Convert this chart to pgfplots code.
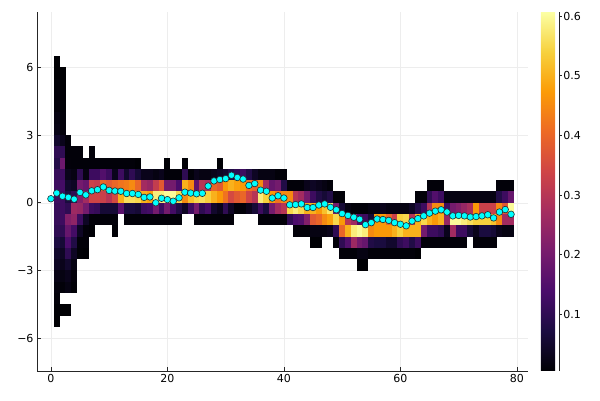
\documentclass[border=0pt]{standalone}
\usepackage{fontspec}
\setmainfont{DejaVu Sans}
\usepackage{pgfplots}
\pgfplotsset{compat=1.18}
\usepackage{pgfplotstable}

\definecolor{mcyan}{RGB}{0,255,255}
\definecolor{mstroke}{RGB}{35,45,50}
\pgfplotsset{colormap={inferno}{rgb255=(0,0,4) rgb255=(27,12,65) rgb255=(74,12,107) rgb255=(120,28,109) rgb255=(165,44,96) rgb255=(207,68,70) rgb255=(237,105,37) rgb255=(251,155,6) rgb255=(247,209,61) rgb255=(252,255,164)}}

\pgfdeclareplotmark{cell}{\pgfpathrectangle{\pgfpoint{-3.0pt}{-5.72pt}}{\pgfpoint{6.0pt}{11.44pt}}\pgfusepath{fill}}

\pgfplotstableread{
x y v
1 6.25 0.005
1 5.75 0.005
1 5.25 0.008
1 4.75 0.01
1 4.25 0.012
1 3.75 0.02
1 3.25 0.025
1 2.75 0.05
1 2.25 0.1
1 1.75 0.085
1 1.25 0.11
1 0.75 0.12
1 0.25 0.12
1 -0.25 0.11
1 -0.75 0.11
1 -1.25 0.1
1 -1.75 0.075
1 -2.25 0.05
1 -2.75 0.04
1 -3.25 0.025
1 -3.75 0.015
1 -4.25 0.01
1 -4.75 0.006
1 -5.25 0.005
2 5.75 0.005
2 5.25 0.005
2 4.75 0.007
2 4.25 0.008
2 3.75 0.01
2 3.25 0.012
2 2.75 0.03
2 2.25 0.1
2 1.75 0.19
2 1.25 0.12
2 0.75 0.13
2 0.25 0.12
2 -0.25 0.12
2 -0.75 0.12
2 -1.25 0.1
2 -1.75 0.06
2 -2.25 0.04
2 -2.75 0.03
2 -3.25 0.02
2 -3.75 0.01
2 -4.75 0.005
3 2.75 0.01
3 2.25 0.01
3 1.75 0.012
3 1.25 0.03
3 0.75 0.05
3 0.25 0.07
3 -0.25 0.1
3 -0.75 0.22
3 -1.25 0.18
3 -1.75 0.14
3 -2.25 0.1
3 -2.75 0.05
3 -3.25 0.03
3 -3.75 0.02
3 -4.75 0.005
4 2.25 0.01
4 1.75 0.01
4 1.25 0.02
4 0.75 0.04
4 0.25 0.1
4 -0.25 0.26
4 -0.75 0.24
4 -1.25 0.13
4 -1.75 0.08
4 -2.25 0.04
4 -2.75 0.02
4 -3.25 0.012
4 -3.75 0.008
5 2.25 0.01
5 1.75 0.01
5 1.25 0.1
5 0.75 0.2
5 0.25 0.22
5 -0.25 0.25
5 -0.75 0.12
5 -1.25 0.04
5 -1.75 0.01
5 -2.25 0.008
6 1.75 0.01
6 1.25 0.02
6 0.75 0.18
6 0.25 0.27
6 -0.25 0.2
6 -0.75 0.04
6 -1.25 0.01
6 -1.75 0.01
6 -2.25 0.006
7 2.25 0.01
7 1.75 0.01
7 1.25 0.12
7 0.75 0.33
7 0.25 0.34
7 -0.25 0.12
7 -0.75 0.01
7 -1.25 0.006
8 1.75 0.01
8 1.25 0.12
8 0.75 0.32
8 0.25 0.34
8 -0.25 0.11
8 -0.75 0.01
9 1.75 0.01
9 1.25 0.15
9 0.75 0.4
9 0.25 0.33
9 -0.25 0.06
9 -0.75 0.01
10 1.75 0.01
10 1.25 0.12
10 0.75 0.38
10 0.25 0.3
10 -0.25 0.06
10 -0.75 0.01
11 1.75 0.01
11 1.25 0.03
11 0.75 0.4
11 0.25 0.35
11 -0.25 0.06
11 -0.75 0.01
11 -1.25 0.006
12 1.75 0.01
12 1.25 0.12
12 0.75 0.42
12 0.25 0.5
12 -0.25 0.16
13 1.75 0.01
13 1.25 0.05
13 0.75 0.43
13 0.25 0.56
13 -0.25 0.07
13 -0.75 0.01
14 1.75 0.01
14 1.25 0.1
14 0.75 0.45
14 0.25 0.56
14 -0.25 0.07
14 -0.75 0.01
15 1.75 0.006
15 1.25 0.06
15 0.75 0.4
15 0.25 0.55
15 -0.25 0.06
15 -0.75 0.01
16 1.25 0.03
16 0.75 0.27
16 0.25 0.5
16 -0.25 0.12
16 -0.75 0.01
17 1.25 0.03
17 0.75 0.25
17 0.25 0.48
17 -0.25 0.13
17 -0.75 0.01
18 1.25 0.02
18 0.75 0.32
18 0.25 0.58
18 -0.25 0.2
18 -0.75 0.01
19 1.25 0.03
19 0.75 0.38
19 0.25 0.58
19 -0.25 0.12
19 -0.75 0.01
20 1.75 0.006
20 1.25 0.01
20 0.75 0.2
20 0.25 0.6
20 -0.25 0.2
20 -0.75 0.01
21 1.25 0.01
21 0.75 0.2
21 0.25 0.6
21 -0.25 0.13
21 -0.75 0.01
22 1.25 0.01
22 0.75 0.14
22 0.25 0.55
22 -0.25 0.08
22 -0.75 0.01
23 1.75 0.006
23 1.25 0.1
23 0.75 0.5
23 0.25 0.45
23 -0.25 0.04
24 1.25 0.01
24 0.75 0.45
24 0.25 0.52
24 -0.25 0.12
25 1.25 0.03
25 0.75 0.17
25 0.25 0.55
25 -0.25 0.2
25 -0.75 0.01
26 1.25 0.02
26 0.75 0.3
26 0.25 0.56
26 -0.25 0.1
26 -0.75 0.01
27 1.25 0.02
27 0.75 0.28
27 0.25 0.54
27 -0.25 0.13
27 -0.75 0.01
28 1.25 0.03
28 0.75 0.4
28 0.25 0.5
28 -0.25 0.05
28 -0.75 0.01
29 1.75 0.006
29 1.25 0.04
29 0.75 0.38
29 0.25 0.47
29 -0.25 0.03
29 -0.75 0.01
30 1.25 0.05
30 0.75 0.47
30 0.25 0.42
30 -0.25 0.1
30 -0.75 0.01
31 1.25 0.08
31 0.75 0.5
31 0.25 0.35
31 -0.25 0.04
31 -0.75 0.01
32 1.25 0.1
32 0.75 0.48
32 0.25 0.38
32 -0.25 0.01
33 1.25 0.12
33 0.75 0.47
33 0.25 0.4
33 -0.25 0.01
34 1.25 0.08
34 0.75 0.42
34 0.25 0.34
34 -0.25 0.03
35 1.25 0.04
35 0.75 0.4
35 0.25 0.3
35 -0.25 0.06
36 1.25 0.02
36 0.75 0.45
36 0.25 0.58
36 -0.25 0.12
36 -0.75 0.01
37 1.25 0.02
37 0.75 0.27
37 0.25 0.54
37 -0.25 0.07
37 -0.75 0.01
38 1.25 0.02
38 0.75 0.18
38 0.25 0.47
38 -0.25 0.2
38 -0.75 0.01
39 1.25 0.01
39 0.75 0.2
39 0.25 0.42
39 -0.25 0.27
39 -0.75 0.01
40 1.25 0.01
40 0.75 0.08
40 0.25 0.45
40 -0.25 0.3
40 -0.75 0.01
41 0.75 0.01
41 0.25 0.45
41 -0.25 0.55
41 -0.75 0.1
42 0.75 0.01
42 0.25 0.3
42 -0.25 0.58
42 -0.75 0.14
42 -1.25 0.01
43 0.75 0.01
43 0.25 0.27
43 -0.25 0.55
43 -0.75 0.15
43 -1.25 0.01
44 0.75 0.03
44 0.25 0.2
44 -0.25 0.5
44 -0.75 0.22
44 -1.25 0.01
45 0.75 0.04
45 0.25 0.12
45 -0.25 0.5
45 -0.75 0.38
45 -1.25 0.02
45 -1.75 0.006
46 0.75 0.03
46 0.25 0.08
46 -0.25 0.47
46 -0.75 0.4
46 -1.25 0.02
46 -1.75 0.006
47 0.75 0.02
47 0.25 0.06
47 -0.25 0.52
47 -0.75 0.45
47 -1.25 0.02
48 0.75 0.01
48 0.25 0.08
48 -0.25 0.57
48 -0.75 0.48
48 -1.25 0.03
49 0.25 0.01
49 -0.25 0.2
49 -0.75 0.55
49 -1.25 0.1
49 -1.75 0.01
50 0.25 0.01
50 -0.25 0.06
50 -0.75 0.47
50 -1.25 0.4
50 -1.75 0.1
50 -2.25 0.01
51 -0.25 0.02
51 -0.75 0.3
51 -1.25 0.5
51 -1.75 0.15
51 -2.25 0.01
52 -0.25 0.01
52 -0.75 0.26
52 -1.25 0.58
52 -1.75 0.26
52 -2.25 0.01
53 -0.25 0.01
53 -0.75 0.14
53 -1.25 0.6
53 -1.75 0.2
53 -2.25 0.02
53 -2.75 0.005
54 -0.25 0.01
54 -0.75 0.12
54 -1.25 0.58
54 -1.75 0.18
54 -2.25 0.02
54 -2.75 0.005
55 -0.25 0.02
55 -0.75 0.06
55 -1.25 0.45
55 -1.75 0.08
55 -2.25 0.01
56 -0.25 0.02
56 -0.75 0.47
56 -1.25 0.47
56 -1.75 0.07
56 -2.25 0.01
57 -0.25 0.03
57 -0.75 0.47
57 -1.25 0.47
57 -1.75 0.07
57 -2.25 0.01
58 -0.25 0.02
58 -0.75 0.4
58 -1.25 0.47
58 -1.75 0.05
58 -2.25 0.01
59 -0.25 0.02
59 -0.75 0.33
59 -1.25 0.5
59 -1.75 0.05
59 -2.25 0.01
60 -0.25 0.02
60 -0.75 0.54
60 -1.25 0.54
60 -1.75 0.1
60 -2.25 0.01
61 -0.25 0.02
61 -0.75 0.55
61 -1.25 0.5
61 -1.75 0.12
61 -2.25 0.01
62 -0.25 0.04
62 -0.75 0.3
62 -1.25 0.5
62 -1.75 0.08
62 -2.25 0.01
63 0.25 0.01
63 -0.25 0.08
63 -0.75 0.5
63 -1.25 0.5
63 -1.75 0.12
63 -2.25 0.005
64 0.25 0.01
64 -0.25 0.12
64 -0.75 0.55
64 -1.25 0.2
64 -1.75 0.01
65 0.75 0.01
65 0.25 0.1
65 -0.25 0.3
65 -0.75 0.5
65 -1.25 0.12
65 -1.75 0.01
66 0.75 0.01
66 0.25 0.15
66 -0.25 0.45
66 -0.75 0.47
66 -1.25 0.12
66 -1.75 0.01
67 0.75 0.01
67 0.25 0.12
67 -0.25 0.45
67 -0.75 0.5
67 -1.25 0.1
67 -1.75 0.01
68 0.25 0.02
68 -0.25 0.12
68 -0.75 0.25
68 -1.25 0.03
68 -1.75 0.01
69 0.25 0.02
69 -0.25 0.2
69 -0.75 0.6
69 -1.25 0.27
69 -1.75 0.01
70 0.25 0.02
70 -0.25 0.22
70 -0.75 0.6
70 -1.25 0.12
70 -1.75 0.01
71 0.25 0.02
71 -0.25 0.25
71 -0.75 0.58
71 -1.25 0.12
71 -1.75 0.01
72 0.25 0.02
72 -0.25 0.28
72 -0.75 0.56
72 -1.25 0.06
73 0.25 0.02
73 -0.25 0.47
73 -0.75 0.54
73 -1.25 0.03
73 -1.75 0.01
74 0.25 0.02
74 -0.25 0.33
74 -0.75 0.54
74 -1.25 0.07
74 -1.75 0.01
75 0.25 0.02
75 -0.25 0.33
75 -0.75 0.54
75 -1.25 0.07
75 -1.75 0.01
76 0.25 0.02
76 -0.25 0.33
76 -0.75 0.52
76 -1.25 0.06
76 -1.75 0.01
77 0.75 0.01
77 0.25 0.08
77 -0.25 0.45
77 -0.75 0.45
77 -1.25 0.03
78 0.75 0.01
78 0.25 0.12
78 -0.25 0.38
78 -0.75 0.27
78 -1.25 0.02
79 0.75 0.01
79 0.25 0.18
79 -0.25 0.6
79 -0.75 0.27
79 -1.25 0.02
}\heat

\pgfplotstableread{
x y
0 0.18
1 0.43
2 0.29
3 0.24
4 0.16
5 0.46
6 0.35
7 0.53
8 0.58
9 0.70
10 0.55
11 0.52
12 0.51
13 0.41
14 0.41
15 0.37
16 0.24
17 0.26
18 0.00
19 0.20
20 0.14
21 0.07
22 0.22
23 0.47
24 0.43
25 0.40
26 0.42
27 0.74
28 0.97
29 1.03
30 1.07
31 1.22
32 1.12
33 1.05
34 0.77
35 0.85
36 0.56
37 0.51
38 0.21
39 0.31
40 0.21
41 -0.09
42 -0.08
43 -0.05
44 -0.21
45 -0.21
46 -0.10
47 -0.05
48 -0.20
49 -0.31
50 -0.48
51 -0.56
52 -0.64
53 -0.73
54 -0.97
55 -0.88
56 -0.72
57 -0.74
58 -0.78
59 -0.88
60 -0.95
61 -1.02
62 -0.81
63 -0.70
64 -0.58
65 -0.46
66 -0.37
67 -0.31
68 -0.41
69 -0.58
70 -0.56
71 -0.58
72 -0.63
73 -0.61
74 -0.58
75 -0.53
76 -0.67
77 -0.41
78 -0.30
79 -0.51
}\means

\begin{document}
\begin{tikzpicture}
\path[use as bounding box] (0,0) rectangle (600pt,400pt);
\begin{axis}[
  at={(37pt,29pt)}, anchor=south west,
  x=5.825pt, y=22.58pt,
  xmin=-2.385, xmax=81.885, ymin=-7.45, ymax=8.45,
  axis x line*=bottom, axis y line*=left,
  axis line style={black!85, line width=0.7pt},
  tick align=inside, major tick length=4pt,
  tick style={black!85, line width=0.6pt},
  grid=major, grid style={black!7, line width=0.5pt},
  xtick={0,20,40,60,80}, xticklabels={0,20,40,60,80},
  ytick={-6,-3,0,3,6}, yticklabels={−6,−3,0,3,6},
  tick label style={font=\fontsize{11}{13}\selectfont},
  /pgf/number format/assume math mode=true,
  colormap name=inferno,
  point meta min=0.005, point meta max=0.607,
  colorbar,
  colorbar style={
    at={(parent axis.north east)}, anchor=north west, xshift=4.5pt,
    width=18pt,
    ytick={0.1,0.2,0.3,0.4,0.5,0.6},
    yticklabels={0.1,0.2,0.3,0.4,0.5,0.6},
    yticklabel style={font=\fontsize{11}{13}\selectfont, xshift=-2pt},
    ytick pos=right,
    tick align=outside, major tick length=3pt,
    tick style={black!85, line width=0.6pt},
    axis line style={draw=none},
    grid=none,
    extra description/.code={\draw[black!85, line width=0.6pt] (1,0) -- (1,1);},
  },
]
\addplot[scatter, only marks, mark=cell, point meta=explicit,
  scatter/use mapped color={fill=mapped color, draw=mapped color}]
  table[x=x, y=y, meta=v] {\heat};
\addplot[only marks, mark=*, mark size=3.3pt,
  mark options={fill=mcyan, draw=mstroke, line width=0.6pt}]
  table[x=x, y=y] {\means};
\end{axis}
\end{tikzpicture}
\end{document}
